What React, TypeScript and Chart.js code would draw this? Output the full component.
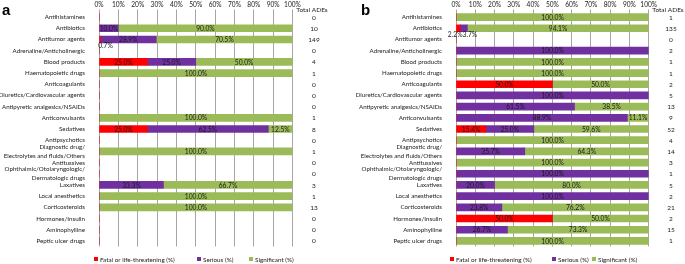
import React, { useEffect, useRef } from "react";
import { Chart, registerables } from "chart.js";
Chart.register(...registerables);

const categories: (string | string[])[] = [
  "Antihistamines",
  "Antibiotics",
  "Antitumor agents",
  "Adrenaline/Anticholinergic",
  "Blood products",
  "Haematopoietic drugs",
  "Anticoagulants",
  "Diuretics/Cardiovascular agents",
  "Antipyretic analgesics/NSAIDs",
  "Anticonvulsants",
  "Sedatives",
  "Antipsychotics",
  ["Diagnostic drug/", "Electrolytes and fluids/Others"],
  "Antitussives",
  ["Ophthalmic/Otolaryngologic/", "Dermatologic drugs"],
  "Laxatives",
  "Local anesthetics",
  "Corticosteroids",
  "Hormones/Insulin",
  "Aminophylline",
  "Peptic ulcer drugs",
];

const seriesNames = ["Fatal or life-threatening (%)", "Serious (%)", "Significant (%)"];
const seriesColors = ["#FF0000", "#7030A0", "#9BBB59"];
const xTicks = [0, 10, 20, 30, 40, 50, 60, 70, 80, 90, 100];

const fatalA = [0, 0, 0.7, 0, 25.0, 0, 0, 0, 0, 0, 25.0, 0, 0, 0, 0, 0, 0, 0, 0, 0, 0];
const seriousA = [0, 10.0, 28.9, 0, 25.0, 0, 0, 0, 0, 0, 62.5, 0, 0, 0, 0, 33.3, 0, 0, 0, 0, 0];
const significantA = [0, 90.0, 70.5, 0, 50.0, 100, 0, 0, 0, 100, 12.5, 0, 100, 0, 0, 66.7, 100, 100, 0, 0, 0];
const totalA = [0, 10, 149, 0, 4, 1, 0, 0, 0, 1, 8, 0, 1, 0, 0, 3, 1, 13, 0, 0, 0];

const fatalB = [0, 2.2, 0, 0, 0, 0, 50.0, 0, 0, 0, 15.4, 0, 0, 0, 0, 0, 0, 0, 50.0, 0, 0];
const seriousB = [0, 3.7, 0, 100, 0, 0, 0, 100, 61.5, 88.9, 25.0, 0, 35.7, 0, 100, 20.0, 100, 23.8, 0, 26.7, 0];
const significantB = [100, 94.1, 0, 0, 100, 100, 50.0, 0, 38.5, 11.1, 59.6, 100, 64.3, 100, 0, 80.0, 0, 76.2, 50.0, 73.3, 100];
const totalB = [1, 135, 0, 2, 1, 1, 2, 5, 13, 9, 52, 4, 14, 3, 1, 5, 2, 21, 2, 15, 1];

const FONT = "Lato";
const TEXT = "#1a1a1a";

type PanelCfg = {
  letter: string;
  letterX: number;
  series: number[][];
  totals: number[];
  width: number;
  left: number;
  right: number;
  totalHeaderX: number;
  totalX: number;
  legendXs: number[];
  legendFont: number;
};

function makeOverlay(cfg: PanelCfg) {
  return {
    id: "overlay" + cfg.letter,
    afterDatasetsDraw(chart: any) {
      const ctx = chart.ctx as CanvasRenderingContext2D;
      const xs = chart.scales.x;
      const ys = chart.scales.y;
      ctx.save();
      // in-bar labels
      ctx.font = `6.7px ${FONT}`;
      ctx.fillStyle = TEXT;
      ctx.textAlign = "center";
      ctx.textBaseline = "middle";
      cfg.series.forEach((arr, di) => {
        const meta = chart.getDatasetMeta(di);
        arr.forEach((v, i) => {
          if (v >= 5) {
            const el = meta.data[i] as any;
            const cx = (el.x + el.base) / 2;
            ctx.fillText(v.toFixed(1) + "%", cx, el.y + 0.5);
          }
        });
      });
      // small values below bar
      categories.forEach((_, i) => {
        let cum = 0;
        let startVal: number | null = null;
        const parts: string[] = [];
        cfg.series.forEach((arr) => {
          const v = arr[i];
          if (v > 0 && v < 5) {
            if (startVal === null) startVal = cum;
            parts.push(v.toFixed(1) + "%");
          }
          cum += v;
        });
        if (startVal !== null) {
          const txt = parts.join("");
          const cx = xs.getPixelForValue(startVal) + 6.5;
          ctx.textAlign = "center";
          ctx.fillText(txt, cx, ys.getPixelForValue(i) + 6.5);
        }
      });
      // totals
      ctx.font = `6.5px ${FONT}`;
      ctx.textAlign = "center";
      ctx.fillText("Total ADEs", cfg.totalHeaderX, 9.5);
      cfg.totals.forEach((t, i) => {
        ctx.fillText(String(t), cfg.totalX, ys.getPixelForValue(i) + 0.5);
      });
      // legend
      const ly = 259;
      ctx.font = `${cfg.legendFont}px ${FONT}`;
      ctx.textAlign = "left";
      seriesNames.forEach((n, k) => {
        const lx = cfg.legendXs[k];
        ctx.fillStyle = seriesColors[k];
        ctx.fillRect(lx - 2, ly - 2, 4, 4);
        ctx.fillStyle = TEXT;
        ctx.fillText(n, lx + 4, ly + 0.5);
      });
      // panel letter
      ctx.font = `bold 15px "Liberation Sans"`;
      ctx.fillStyle = "#000";
      ctx.textBaseline = "alphabetic";
      ctx.textAlign = "left";
      ctx.fillText(cfg.letter, cfg.letterX, 15);
      ctx.restore();
    },
  };
}

function Panel({ cfg, x }: { cfg: PanelCfg; x: number }) {
  const ref = useRef<HTMLCanvasElement | null>(null);
  useEffect(() => {
    if (!ref.current) return;
    const T = 11.5;
    const B = 17.5;
    const chart = new Chart(ref.current, {
      type: "bar",
      data: {
        labels: categories as any,
        datasets: cfg.series.map((arr, k) => ({
          label: seriesNames[k],
          data: arr,
          backgroundColor: seriesColors[k],
          borderWidth: 0,
          barThickness: 7,
        })),
      },
      options: {
        indexAxis: "y",
        responsive: false,
        animation: false,
        devicePixelRatio: 1,
        layout: { padding: { left: 0, right: cfg.width - cfg.right, top: 0, bottom: B } },
        plugins: { legend: { display: false }, tooltip: { enabled: false } },
        scales: {
          x: {
            position: "top",
            stacked: true,
            min: 0,
            max: 100,
            afterBuildTicks: (s: any) => {
              s.ticks = xTicks.map((v) => ({ value: v }));
            },
            afterFit: (s: any) => {
              s.height = T;
              s.paddingLeft = 0;
              s.paddingRight = 0;
            },
            grid: { color: "#A6A6A6", lineWidth: 1, tickLength: 2, drawTicks: true },
            border: { display: false },
            ticks: {
              callback: (v: any) => v + "%",
              font: { family: FONT, size: 6.6 },
              color: TEXT,
              padding: 1,
              maxRotation: 0,
              autoSkip: false,
            },
          },
          y: {
            stacked: true,
            afterFit: (s: any) => {
              s.width = cfg.left;
              s.paddingTop = 0;
              s.paddingBottom = 0;
            },
            grid: { display: false },
            border: { display: false },
            ticks: {
              font: { family: FONT, size: 6.2, lineHeight: 1.45 },
              color: TEXT,
              padding: 6,
              autoSkip: false,
            },
          },
        },
      },
      plugins: [makeOverlay(cfg)],
    });
    return () => chart.destroy();
  }, []);
  return (
    <canvas
      ref={ref}
      width={cfg.width}
      height={264}
      style={{ position: "absolute", left: x, top: 0, width: cfg.width, height: 264 }}
    />
  );
}

const panelA: PanelCfg = {
  letter: "a",
  letterX: 2,
  series: [fatalA, seriousA, significantA],
  totals: totalA,
  width: 342,
  left: 99,
  right: 292.5,
  totalHeaderX: 312,
  totalX: 314,
  legendXs: [96, 199, 251],
  legendFont: 6.3,
};

const panelB: PanelCfg = {
  letter: "b",
  letterX: 19,
  series: [fatalB, seriousB, significantB],
  totals: totalB,
  width: 343,
  left: 114,
  right: 306.7,
  totalHeaderX: 326,
  totalX: 329,
  legendXs: [110, 212, 252],
  legendFont: 6.4,
};

export default function App() {
  return (
    <div style={{ position: "absolute", left: 0, top: 0, width: 685, height: 264, background: "#fff" }}>
      <Panel cfg={panelA} x={0} />
      <Panel cfg={panelB} x={342} />
    </div>
  );
}
